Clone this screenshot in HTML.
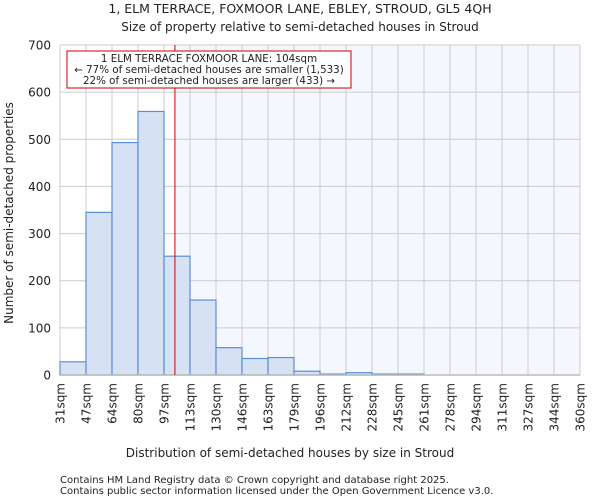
<!DOCTYPE html>
<html><head><meta charset="utf-8"><style>
body{margin:0;background:#fff;font-family:"DejaVu Sans","Liberation Sans",sans-serif;}
svg text{font-family:"DejaVu Sans","Liberation Sans",sans-serif;fill:#222;}
</style></head><body>
<svg id="c" width="600" height="500">
<text x="300" y="13" font-size="12.5" text-anchor="middle">1, ELM TERRACE, FOXMOOR LANE, EBLEY, STROUD, GL5 4QH</text>
<text x="300" y="31" font-size="12" text-anchor="middle">Size of property relative to semi-detached houses in Stroud</text>
<g id="plot"></g>
<text x="290" y="457" font-size="12" text-anchor="middle">Distribution of semi-detached houses by size in Stroud</text>
<text transform="translate(13,213) rotate(-90)" font-size="12" text-anchor="middle">Number of semi-detached properties</text>
<text x="60" y="483" font-size="10" fill="#444">Contains HM Land Registry data © Crown copyright and database right 2025.</text>
<text x="60" y="494" font-size="10" fill="#444">Contains public sector information licensed under the Open Government Licence v3.0.</text>
</svg>
<script>
const categories=["31sqm","47sqm","64sqm","80sqm","97sqm","113sqm","130sqm","146sqm","163sqm","179sqm","196sqm","212sqm","228sqm","245sqm","261sqm","278sqm","294sqm","311sqm","327sqm","344sqm","360sqm"];
const counts=[28,345,493,559,252,159,58,35,37,8,2,5,2,2,0,0,0,0,0,0];
const yTicks=[0,100,200,300,400,500,600,700];
const propertyBin=4.42;
const NS="http://www.w3.org/2000/svg";
const X0=60,X1=580,Y0=375,Y1=45,YMAX=700;
const n=counts.length;
const x=i=>X0+(X1-X0)*i/n;
const y=v=>Y0-(Y0-Y1)*v/YMAX;
const g=document.getElementById('plot');
function mk(t,a){const e=document.createElementNS(NS,t);for(const k in a)e.setAttribute(k,a[k]);g.appendChild(e);return e;}
const bg=mk('rect',{x:x(propertyBin),y:Y1,width:X1-x(propertyBin),height:Y0-Y1,fill:'#f4f7fd'});


for(let i=0;i<=n;i++){const l=mk('line',{x1:x(i),x2:x(i),y1:Y1,y2:Y0,stroke:'#ccc','stroke-width':1});

}
yTicks.forEach(k=>{const l=mk('line',{x1:X0,x2:X1,y1:y(k),y2:y(k),stroke:'#ccc','stroke-width':1});

});
counts.forEach((v,i)=>{const r=mk('rect',{x:x(i),y:y(v),width:x(i+1)-x(i),height:Y0-y(v),fill:'#d6e2f4',stroke:'#5a8fd6','stroke-width':1.2});

});
const ax=mk('line',{x1:X0,x2:X1,y1:Y0,y2:Y0,stroke:'#bbb','stroke-width':1.5});


yTicks.forEach(t=>{const tx=mk('text',{x:X0-9,y:y(t)+4.5,'font-size':12,'text-anchor':'end'});tx.textContent=t;

});
categories.forEach((c,i)=>{const tx=mk('text',{transform:`translate(${x(i)+4.5},${Y0+8}) rotate(-90)`,'font-size':12,'text-anchor':'end'});tx.textContent=c;

});
const pl=mk('line',{x1:x(propertyBin),x2:x(propertyBin),y1:Y1,y2:Y0,stroke:'#c00','stroke-width':1});


const box=mk('rect',{x:67,y:51,width:284,height:37,fill:'#fff',stroke:'#c00','stroke-width':1});


["1 ELM TERRACE FOXMOOR LANE: 104sqm","← 77% of semi-detached houses are smaller (1,533)","22% of semi-detached houses are larger (433) →"].forEach((s,i)=>{const tx=mk('text',{x:209,y:62+i*11,'font-size':10.3,'text-anchor':'middle'});tx.textContent=s;

});
</script>
</body></html>
